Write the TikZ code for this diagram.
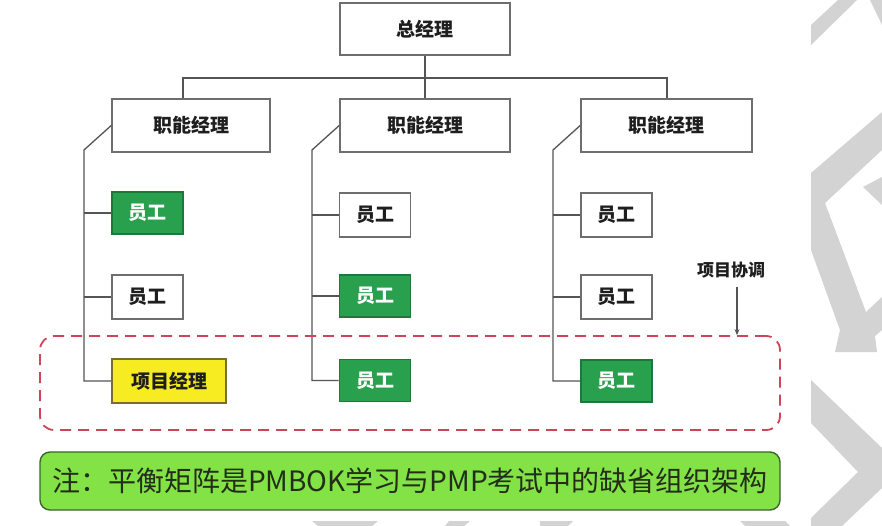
\documentclass[tikz,border=0pt]{standalone}
\usepackage{fontspec}
\setmainfont{Noto Sans CJK SC}
\newfontfamily\cjk{Noto Sans CJK SC}
\usetikzlibrary{arrows.meta}
\definecolor{linegray}{RGB}{85,85,85}
\definecolor{boxgray}{RGB}{110,110,110}
\definecolor{staffgreen}{RGB}{40,160,78}
\definecolor{staffgreenb}{RGB}{30,120,60}
\definecolor{pmyellow}{RGB}{247,236,34}
\definecolor{pmyellowb}{RGB}{120,110,50}
\definecolor{zonered}{RGB}{205,70,88}
\definecolor{notegreen}{RGB}{130,226,70}
\definecolor{notegreenb}{RGB}{60,100,45}
\definecolor{wmgray}{RGB}{211,211,211}
\definecolor{txt}{RGB}{30,30,30}
\tikzset{
  wm/.style={fill=wmgray, draw=none},
  orgbox/.style={draw=boxgray, line width=1.6pt, fill=white, inner sep=0pt, text=txt,
    font=\cjk\bfseries\fontsize{19}{22}\selectfont},
  staffwhite/.style={orgbox, minimum width=71, minimum height=44},
  staffgreenbox/.style={orgbox, draw=staffgreenb, fill=staffgreen, text=white, minimum width=71, minimum height=42},
  pmbox/.style={orgbox, draw=pmyellowb, fill=pmyellow, minimum width=114, minimum height=44},
  mgrbox/.style={orgbox, minimum height=53},
  conn/.style={draw=linegray, line width=1.3pt},
}
\begin{document}
\begin{tikzpicture}[x=1pt, y=-1pt]
\useasboundingbox (0,0) rectangle (882,526);
\fill[white] (0,0) rectangle (882,526);
% watermark
\fill[wm] (811,25) -- (838,0) -- (857,0) -- (811,45) -- cycle;
\fill[wm] (870,0) -- (882,0) -- (882,25) -- cycle;
\fill[wm] (811,173) -- (882,112) -- (882,150) -- (825,203) -- (866,312) -- (882,297) -- (882,330) -- (875,336) -- (877,352) -- (835,352) -- (840,330) -- (811,250) -- cycle;
\fill[wm] (863,187) -- (882,177) -- (882,205) -- cycle;
\fill[wm] (811,380) -- (882,448) -- (882,488) -- (842,526) -- (811,526) -- (811,518) -- (858,472) -- (811,423) -- cycle;
\fill[wm] (312,521) -- (378,521) -- (372,526) -- (318,526) -- cycle;
\fill[wm] (449,521) -- (470,521) -- (464,526) -- (445,526) -- cycle;
\fill[wm] (540,521) -- (573,521) -- (568,526) -- (540,526) -- cycle;
\fill[wm] (740,521) -- (785,521) -- (790,526) -- (745,526) -- cycle;

% nodes
\node[orgbox, minimum width=170, minimum height=52] (gm) at (425,29) {总经理};
\node[mgrbox, minimum width=158] (f1) at (191,125.5) {职能经理};
\node[mgrbox, minimum width=170] (f2) at (425,125.5) {职能经理};
\node[mgrbox, minimum width=171] (f3) at (666.5,125.5) {职能经理};

\node[staffgreenbox] (e11) at (147.5,213) {员工};
\node[staffwhite] (e12) at (147.5,297) {员工};
\node[pmbox] (pm) at (169,381) {项目经理};

\node[staffwhite] (e21) at (375,215) {员工};
\node[staffgreenbox] (e22) at (375,296) {员工};
\node[staffgreenbox] (e23) at (375,380.5) {员工};

\node[staffwhite] (e31) at (616.5,215) {员工};
\node[staffwhite] (e32) at (616.5,297) {员工};
\node[staffgreenbox] (e33) at (616.5,381) {员工};

% connectors
\coordinate (bus) at (425,78);
\draw[conn] (gm.south) -- (f2.north);
\draw[conn] ([xshift=-8pt]f1.north) |- (bus) -| ([xshift=0.5pt]f3.north);

\coordinate (s1) at (84,150);
\coordinate (s2) at (312,150);
\coordinate (s3) at (553,150);
\draw[conn] (f1.west) -- (s1) |- (pm.west);
\draw[conn] (s1 |- e11.west) -- (e11.west);
\draw[conn] (s1 |- e12.west) -- (e12.west);
\draw[conn] (f2.west) -- (s2) |- (e23.west);
\draw[conn] (s2 |- e21.west) -- (e21.west);
\draw[conn] (s2 |- e22.west) -- (e22.west);
\draw[conn] (f3.west) -- (s3) |- (e33.west);
\draw[conn] (s3 |- e31.west) -- (e31.west);
\draw[conn] (s3 |- e32.west) -- (e32.west);

% project zone
\node[draw=zonered, line width=1.8pt, dash pattern=on 11pt off 7pt, rounded corners=14pt,
      minimum width=740, minimum height=94, inner sep=0pt] (zone) at (410,383) {};
\node[text=txt, font=\cjk\bfseries\fontsize{17}{20}\selectfont] (coord) at (731,270) {项目协调};
\coordinate (a1) at (737,287);
\draw[conn, line width=1.1pt, -{Stealth[length=6pt,width=5pt]}] (a1) -- (a1 |- zone.north);

% note
\node[draw=notegreenb, line width=1.4pt, fill=notegreen, rounded corners=10pt,
      minimum width=740, minimum height=58, inner sep=0pt, text={rgb,255:red,35;green,45;blue,25},
      font=\cjk\fontsize{28}{32}\selectfont] (note) at (410,481)
      {注：平衡矩阵是PMBOK学习与PMP考试中的缺省组织架构};
\end{tikzpicture}
\end{document}
